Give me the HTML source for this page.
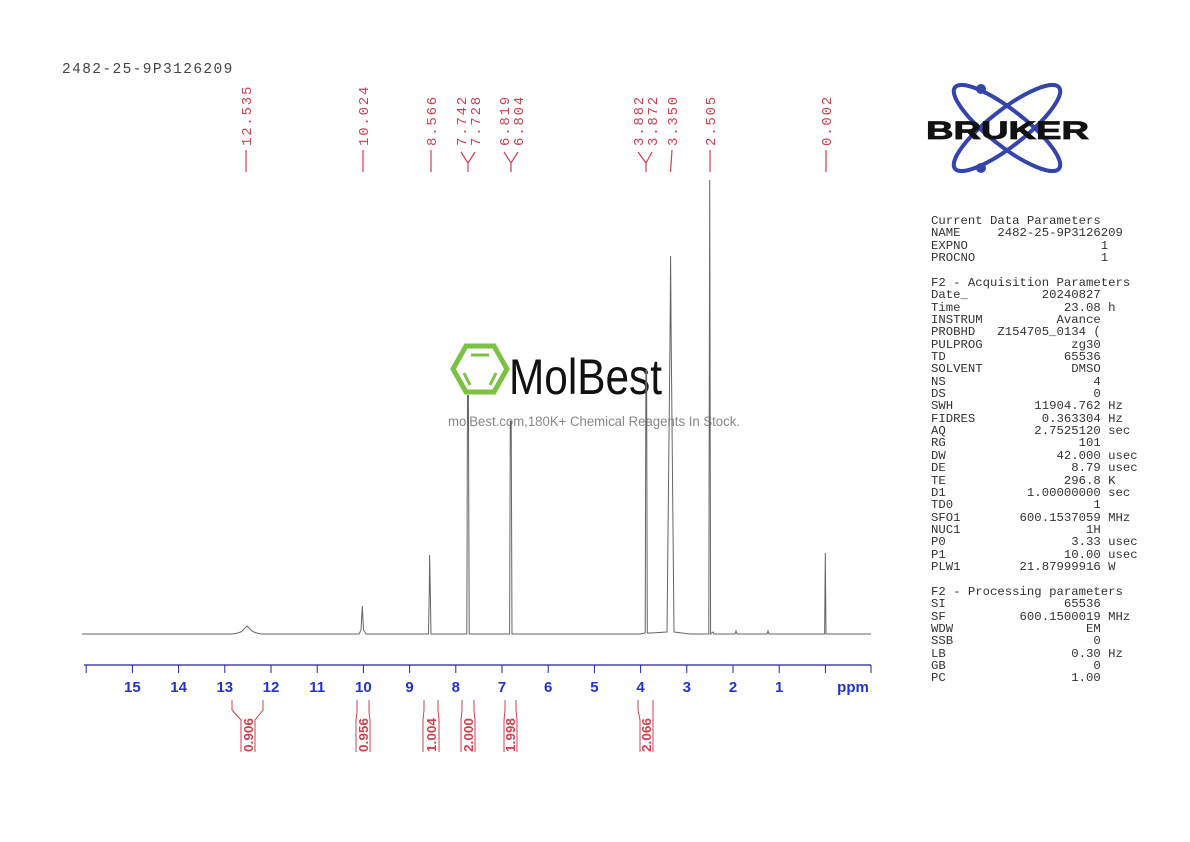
<!DOCTYPE html>
<html><head><meta charset="utf-8"><style>
html,body{margin:0;padding:0;background:#fff;}
body{width:1190px;height:842px;position:relative;overflow:hidden;}
pre{margin:0;position:absolute;left:931px;font-family:"Liberation Mono",monospace;font-size:12.3px;line-height:12.35px;color:#333;}
</style></head><body>
<svg width="1190" height="842" style="position:absolute;left:0;top:0" xmlns="http://www.w3.org/2000/svg">
<defs>
<pattern id="mt" patternUnits="userSpaceOnUse" x="825.4" y="0" width="4.62" height="10"><line x1="0.3" y1="0" x2="0.3" y2="4" stroke="#2222aa" stroke-width="0.8"/></pattern>
</defs>
<text x="62" y="73" font-family="Liberation Mono, monospace" font-size="14.5" letter-spacing="1.4" fill="#444">2482-25-9P3126209</text>
<g font-family="Liberation Mono, monospace" font-size="14" letter-spacing="1.8" fill="#d04050">
<text transform="translate(251,146) rotate(-90)">12.535</text>
<text transform="translate(368,146) rotate(-90)">10.024</text>
<text transform="translate(436,146) rotate(-90)">8.566</text>
<text transform="translate(466,146) rotate(-90)">7.742</text>
<text transform="translate(480,146) rotate(-90)">7.728</text>
<text transform="translate(509,146) rotate(-90)">6.819</text>
<text transform="translate(523,146) rotate(-90)">6.804</text>
<text transform="translate(643,146) rotate(-90)">3.882</text>
<text transform="translate(657,146) rotate(-90)">3.872</text>
<text transform="translate(677,146) rotate(-90)">3.350</text>
<text transform="translate(715,146) rotate(-90)">2.505</text>
<text transform="translate(831,146) rotate(-90)">0.002</text>
</g>
<g stroke="#d04050" stroke-width="1.2" fill="none">
<line x1="246" y1="150" x2="246" y2="172"/>
<line x1="363" y1="150" x2="363" y2="172"/>
<line x1="431" y1="150" x2="431" y2="172"/>
<polyline points="461,152 468,163 468,172"/><polyline points="475,152 468,163"/>
<polyline points="504,152 511,163 511,172"/><polyline points="518,152 511,163"/>
<polyline points="638,152 646,163 646,172"/><polyline points="652,152 646,163"/>
<line x1="672" y1="150" x2="670.5" y2="172"/>
<line x1="710" y1="150" x2="710" y2="172"/>
<line x1="826" y1="150" x2="826" y2="172"/>
</g>
<g>
<polygon points="466,346 494,346 507,369 494,392 466,392 453,369" fill="none" stroke="#7cc242" stroke-width="5"/>
<line x1="471" y1="355" x2="489" y2="355" stroke="#7cc242" stroke-width="3"/>
<line x1="464" y1="373" x2="470" y2="385" stroke="#7cc242" stroke-width="3"/>
<line x1="496" y1="373" x2="490" y2="385" stroke="#7cc242" stroke-width="3"/>
<text x="509" y="394" font-family="Liberation Sans Narrow, Liberation Sans, sans-serif" font-size="50" fill="#111" textLength="153" lengthAdjust="spacingAndGlyphs">MolBest</text>
<text x="448" y="426" font-family="Liberation Sans, sans-serif" font-size="13.5" fill="#888" textLength="292" lengthAdjust="spacingAndGlyphs">molBest.com,180K+ Chemical Reagents In Stock.</text>
</g>
<path d="M82,634 L232,634 Q242,633 244,629 L247,626 L250,629 Q253,633 262,634 L359,634 L361,630 L362.3,606 L363.5,630 L366,634 L428.5,634 L429.3,590 L429.6,555 L430.3,590 L431,634 L466.8,634 L467.5,395 L468,420 L468.4,395 L469.2,634 L509.6,634 L510.3,421 L510.8,440 L511.2,421 L512,634 L640,634 L645.2,633 L645.9,370 L646.3,390 L646.6,370 L647.3,633 L651,633 L667,632 L670,340 L670.6,256 L671.2,340 L674,632 L690,634 L708.8,634 L709.7,180 L710.6,634 L713,632 L714,634 L735,634 L736,631 L737,634 L767,634 L768,631 L769,634 L824.6,634 L825.3,553 L826,634 L871,634" fill="none" stroke="#666" stroke-width="1"/>
<line x1="84" y1="665" x2="871" y2="665" stroke="#2222aa" stroke-width="1.2"/>
<rect x="84" y="665" width="787" height="4" fill="url(#mt)"/>
<g stroke="#2222aa" stroke-width="1">
<line x1="132.4" y1="665" x2="132.4" y2="673"/><line x1="178.6" y1="665" x2="178.6" y2="673"/><line x1="224.8" y1="665" x2="224.8" y2="673"/><line x1="271" y1="665" x2="271" y2="673"/><line x1="317.2" y1="665" x2="317.2" y2="673"/><line x1="363.4" y1="665" x2="363.4" y2="673"/><line x1="409.6" y1="665" x2="409.6" y2="673"/><line x1="455.8" y1="665" x2="455.8" y2="673"/><line x1="502" y1="665" x2="502" y2="673"/><line x1="548.2" y1="665" x2="548.2" y2="673"/><line x1="594.4" y1="665" x2="594.4" y2="673"/><line x1="640.6" y1="665" x2="640.6" y2="673"/><line x1="686.8" y1="665" x2="686.8" y2="673"/><line x1="733" y1="665" x2="733" y2="673"/><line x1="779.2" y1="665" x2="779.2" y2="673"/><line x1="825.4" y1="665" x2="825.4" y2="673"/><line x1="86.2" y1="665" x2="86.2" y2="673"/><line x1="871" y1="665" x2="871" y2="673"/>
</g>
<g font-family="Liberation Sans, sans-serif" font-weight="bold" font-size="15" fill="#2233cc" text-anchor="middle">
<text x="132.4" y="692">15</text><text x="178.6" y="692">14</text><text x="224.8" y="692">13</text><text x="271" y="692">12</text><text x="317.2" y="692">11</text><text x="363.4" y="692">10</text><text x="409.6" y="692">9</text><text x="455.8" y="692">8</text><text x="502" y="692">7</text><text x="548.2" y="692">6</text><text x="594.4" y="692">5</text><text x="640.6" y="692">4</text><text x="686.8" y="692">3</text><text x="733" y="692">2</text><text x="779.2" y="692">1</text><text x="853" y="692">ppm</text>
</g>
<g stroke="#d04050" stroke-width="1" fill="none">
<polyline points="232,700 232,710 241,720 241,752"/><polyline points="263,700 263,710 255,720 255,752"/>
<polyline points="357,700 357,712 356,720 356,752"/><polyline points="369,700 369,712 370,720 370,752"/>
<polyline points="424,700 424,710 423,720 423,752"/><polyline points="438,700 438,710 439,720 439,752"/>
<polyline points="462,700 462,710 461,720 461,752"/><polyline points="474,700 474,710 475,720 475,752"/>
<polyline points="505,700 505,710 504,720 504,752"/><polyline points="516,700 516,710 517,720 517,752"/>
<polyline points="638,700 638,710 640,720 640,752"/><polyline points="653,700 653,710 653,720 653,752"/>
</g>
<g font-family="Liberation Sans, sans-serif" font-weight="bold" font-size="13" fill="#d04050">
<text transform="translate(253,752) rotate(-90)" textLength="34" lengthAdjust="spacingAndGlyphs">0.906</text>
<text transform="translate(368,752) rotate(-90)" textLength="34" lengthAdjust="spacingAndGlyphs">0.956</text>
<text transform="translate(436,752) rotate(-90)" textLength="34" lengthAdjust="spacingAndGlyphs">1.004</text>
<text transform="translate(473,752) rotate(-90)" textLength="34" lengthAdjust="spacingAndGlyphs">2.000</text>
<text transform="translate(515,752) rotate(-90)" textLength="34" lengthAdjust="spacingAndGlyphs">1.998</text>
<text transform="translate(651,752) rotate(-90)" textLength="34" lengthAdjust="spacingAndGlyphs">2.066</text>
</g>
<g fill="none" stroke="#3344aa" stroke-width="4">
<ellipse cx="1007" cy="128" rx="66" ry="18" transform="rotate(38 1007 128)"/>
<ellipse cx="1007" cy="128" rx="66" ry="18" transform="rotate(-38 1007 128)"/>
</g>
<circle cx="981" cy="89" r="5" fill="#3344aa"/><circle cx="981" cy="168" r="5" fill="#3344aa"/>
<text x="926" y="139" font-family="Liberation Sans, sans-serif" font-weight="bold" font-size="25" fill="#111" stroke="#111" stroke-width="0.8" textLength="163" lengthAdjust="spacingAndGlyphs">BRUKER</text>
</svg>
<pre style="top:215px">Current Data Parameters
NAME     2482-25-9P3126209
EXPNO                  1
PROCNO                 1</pre>
<pre style="top:277px">F2 - Acquisition Parameters
Date_          20240827
Time              23.08 h
INSTRUM          Avance
PROBHD   Z154705_0134 (
PULPROG            zg30
TD                65536
SOLVENT            DMSO
NS                    4
DS                    0
SWH           11904.762 Hz
FIDRES         0.363304 Hz
AQ            2.7525120 sec
RG                  101
DW               42.000 usec
DE                 8.79 usec
TE                296.8 K
D1           1.00000000 sec
TD0                   1
SFO1        600.1537059 MHz
NUC1                 1H
P0                 3.33 usec
P1                10.00 usec
PLW1        21.87999916 W</pre>
<pre style="top:586px">F2 - Processing parameters
SI                65536
SF          600.1500019 MHz
WDW                  EM
SSB                   0
LB                 0.30 Hz
GB                    0
PC                 1.00</pre>
</body></html>
